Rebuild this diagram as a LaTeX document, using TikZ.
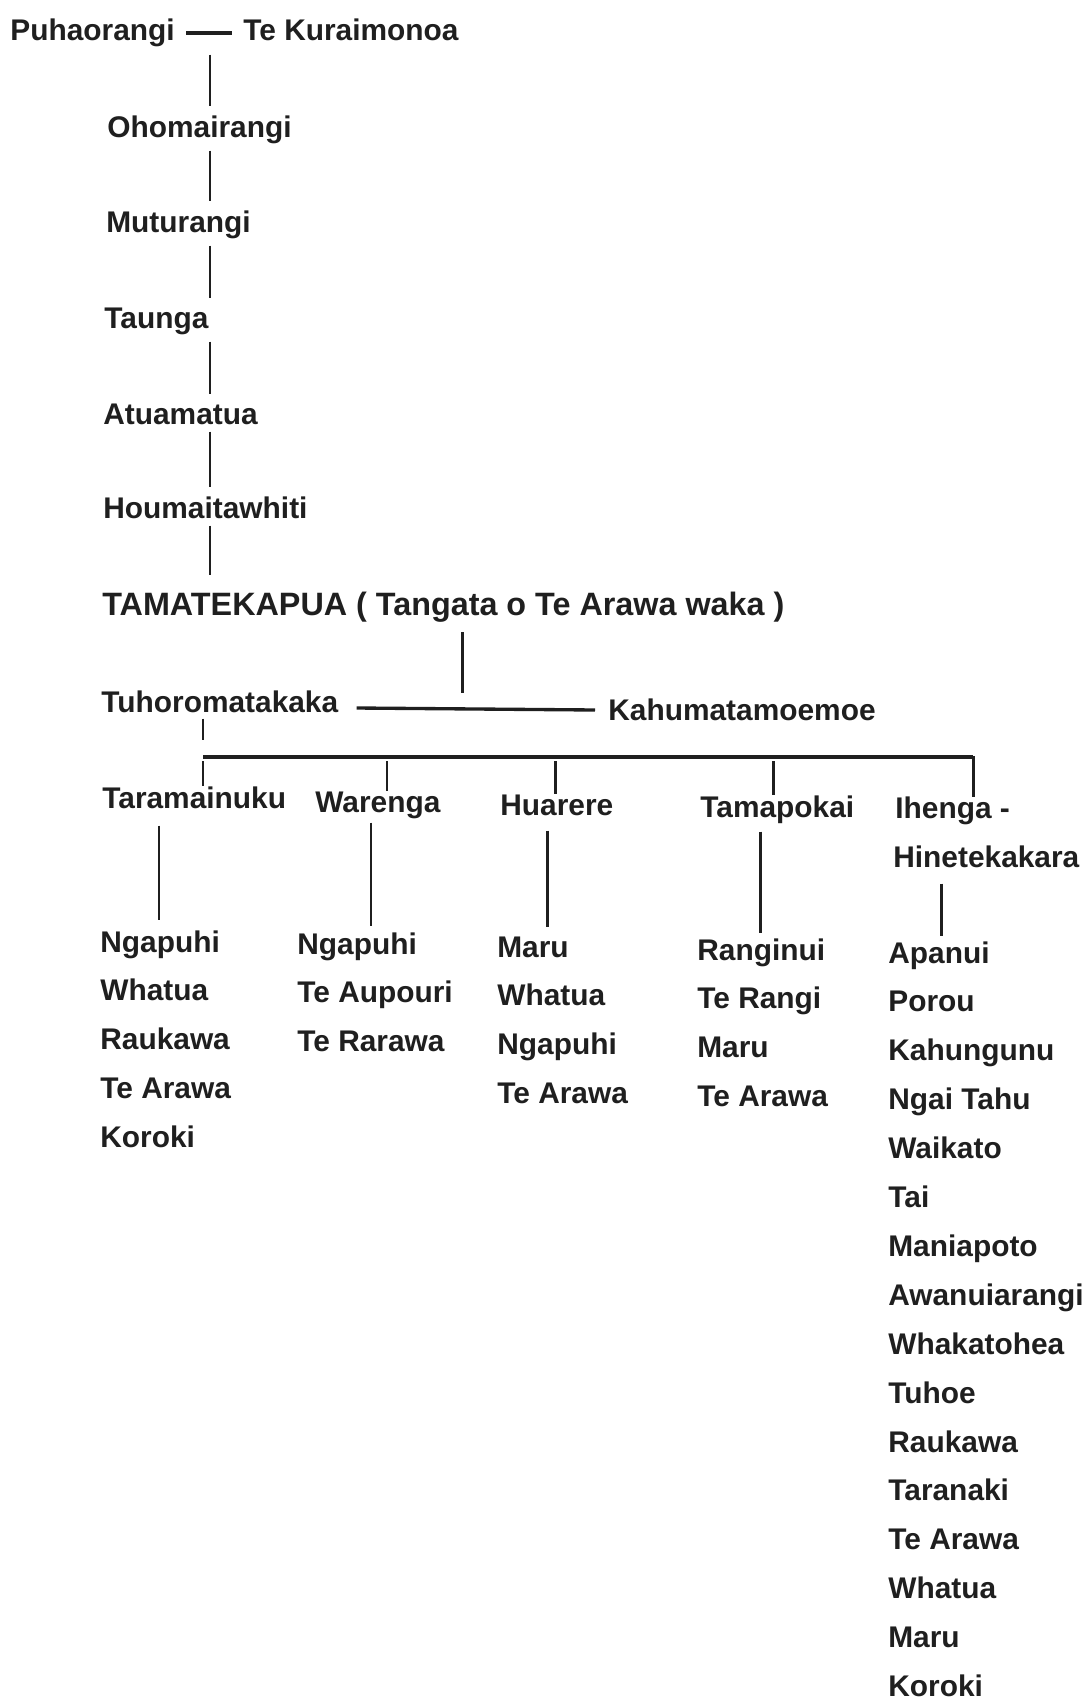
\documentclass[tikz,border=0pt]{standalone}
\usepackage{fontspec}
\setmainfont{Liberation Sans}
\usetikzlibrary{calc}

\begin{document}
\begin{tikzpicture}[x=0.2mm,y=-0.2mm,
			name node/.style={anchor=base west,inner sep=0pt,text=black!88,font=\bfseries\fontsize{17}{21}\selectfont},
			link/.style={draw=black!88,line width=1.7pt,shorten <=1.4mm,shorten >=1.8mm},
			bar/.style={draw=black!88,line width=1.9pt}
			]
			
			\def \gap {48.9};
			\useasboundingbox (0,0) rectangle (1087,1701);
			
			% the line down to Tamatekapua
			\node[name node] (puha) at (10,41) {Puhaorangi};
			\node[name node] (kura) at (243,41) {Te Kuraimonoa};
			\draw[bar] ($(puha.base east)+(11,-8)$) -- ($(kura.base west)+(-11,-8)$);
			
			\node[name node] (oho) at (107,137) {Ohomairangi};
			\node[name node] (mutu) at (106,232) {Muturangi};
			\node[name node] (taun) at (104,328) {Taunga};
			\node[name node] (atua) at (103,424) {Atuamatua};
			\node[name node] (houm) at (103,518) {Houmaitawhiti};
			\node[name node,font=\bfseries\fontsize{18.4}{21}\selectfont] (tama) at (102,615) {TAMATEKAPUA ( Tangata o Te Arawa waka )};
			
			\coordinate (spine) at (210,0);
			\foreach \a/\b in {puha/oho, oho/mutu, mutu/taun, taun/atua, atua/houm}
				\draw[link] (\a.south -| spine) -- (\b.north -| spine);
			\draw[link,shorten >=3.2mm] (houm.south -| spine) -- (tama.north -| spine);
			
			% marriage
			\node[name node] (tuho) at (101,712) {Tuhoromatakaka};
			\node[name node] (kahu) at (608,720) {Kahumatamoemoe};
			\draw[bar] ($(tuho.base east)+(18,-4)$) -- ($(kahu.base west)+(-13,-10)$);
			\coordinate (wed) at (462,709);
			\draw[link,shorten <=2mm,shorten >=3.2mm] (tama.south -| wed) -- (wed);
			
			% children
			\node[name node] (tara) at (102,808) {Taramainuku};
			\node[name node] (ware) at (315,812) {Warenga};
			\node[name node] (huar) at (500,815) {Huarere};
			\node[name node] (tamp) at (700,817) {Tamapokai};
			\node[name node] (ihen) at (895,818) {Ihenga -};
			\node[name node] (hine) at (893,867) {Hinetekakara};
			
			\coordinate (fork) at (203,757);
			\draw[link,shorten <=1.2mm,shorten >=3.4mm] (tuho.south -| fork) -- (fork);
			\foreach \c/\x in {tara/203, ware/387, huar/555, tamp/773, ihen/973}
				\coordinate (d\c) at (\x,757);
			\draw[bar] (dtara) -- (dihen);
			\foreach \c in {tara, ware, huar, tamp}
				\draw[link,shorten <=0.8mm,shorten >=0pt] (d\c) -- (\c.north -| d\c);
			\draw[link,shorten <=-0.15mm,shorten >=-0.2mm] (dihen) -- (ihen.north -| dihen);
			
			% iwi lists
			\foreach \t [count=\i] in {Ngapuhi, Whatua, Raukawa, Te Arawa, Koroki}
				\node[name node] (ka\i) at (100,{952+\gap*(\i-1)}) {\t};
			\foreach \t [count=\i] in {Ngapuhi, Te Aupouri, Te Rarawa}
				\node[name node] (kb\i) at (297,{954+\gap*(\i-1)}) {\t};
			\foreach \t [count=\i] in {Maru, Whatua, Ngapuhi, Te Arawa}
				\node[name node] (kc\i) at (497,{957+\gap*(\i-1)}) {\t};
			\foreach \t [count=\i] in {Ranginui, Te Rangi, Maru, Te Arawa}
				\node[name node] (kd\i) at (697,{960+\gap*(\i-1)}) {\t};
			\foreach \t [count=\i] in {Apanui, Porou, Kahungunu, Ngai Tahu, Waikato, Tai, Maniapoto, Awanuiarangi, Whakatohea, Tuhoe, Raukawa, Taranaki, Te Arawa, Whatua, Maru, Koroki}
				\node[name node] (ke\i) at (888,{963+\gap*(\i-1)}) {\t};
			
			\foreach \p/\k/\x/\a/\b in {tara/ka1/159/3.4mm/2mm, ware/kb1/371/0.8mm/1.3mm, huar/kc1/547/3mm/1.9mm, tamp/kd1/760/1.6mm/1.1mm, hine/ke1/941/3.2mm/1.1mm} {
				\coordinate (c\k) at (\x,0);
				\draw[link,shorten <=\a,shorten >=\b] (\p.south -| c\k) -- (\k.north -| c\k);
			}
			
		\end{tikzpicture}
\end{document}
